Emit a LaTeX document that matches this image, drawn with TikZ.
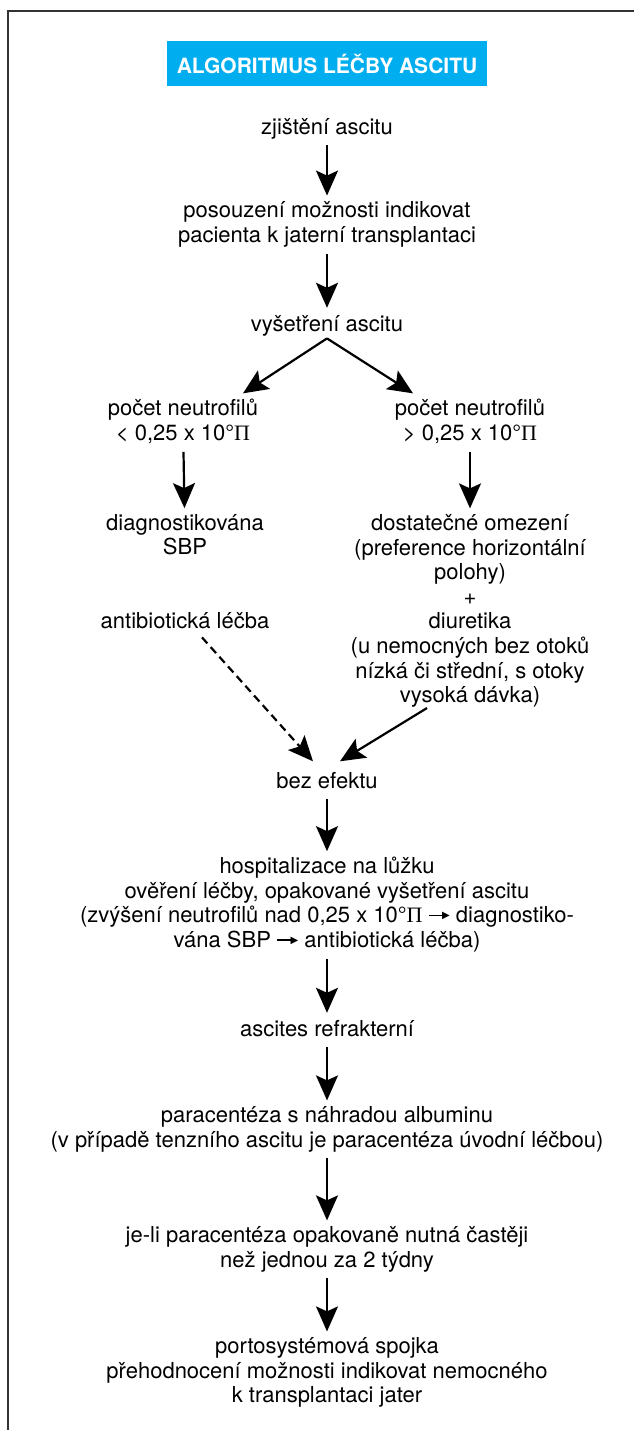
\documentclass[tikz,border=0pt]{standalone}
\usepackage{fontspec}
\setmainfont{TeX Gyre Heros}
\newfontfamily\serifpi{Liberation Serif}
\newfontfamily\arrowfont{DejaVu Sans}
\usetikzlibrary{arrows.meta}
\definecolor{titleblue}{HTML}{00AEEF}
\definecolor{framegray}{HTML}{333333}
\newcommand{\piu}{{\serifpi Π}}
\newcommand{\tarr}{\mbox{\rule[0.3em]{16pt}{1.4pt}\kern-2.5pt\raisebox{0.2em}{\arrowfont\fontsize{10}{10}\selectfont ▶}}}
\begin{document}
\begin{tikzpicture}[x=1pt,y=-1pt,
  txt/.style={align=center, inner xsep=0pt, inner ysep=0pt, outer sep=0pt,
    font=\fontsize{22}{24.6}\selectfont,
    execute at begin node=\strut, execute at end node=\strut},
  arr/.style={line width=2.2pt, shorten <=4pt, shorten >=6pt,
    -{Stealth[length=25pt,width=22pt,inset=5pt]}},
  dasharr/.style={arr, dash pattern=on 8pt off 5pt},
  titlebox/.style={fill=titleblue, text=white, inner sep=0pt,
    font=\bfseries\fontsize{21}{24}\selectfont,
    minimum width=320pt, minimum height=45pt}
]
\useasboundingbox (0,0) rectangle (634,1430);
\draw[framegray, line width=2pt] (634,11) -- (8,11) -- (8,1430);

\node[titlebox] (title) at (327,63.5) {ALGORITMUS LÉČBY ASCITU};

\node[txt] (zj) at (327,129.1) {zjištění ascitu};
\node[txt] (pos) at (327,225.6) {posouzení možnosti indikovat\\pacienta k jaterní transplantaci};
\node[txt] (vys) at (327,326.1) {vyšetření ascitu};
\node[txt] (pnL) at (183,423.6) {počet neutrofilů\\< 0,25 x 10°\piu};
\node[txt] (pnR) at (470,423.6) {počet neutrofilů\\> 0,25 x 10°\piu};
\node[txt] (diag) at (185,538.1) {diagnostikována\\SBP};
\node[txt] (ab) at (185,623.1) {antibiotická léčba};
\node[txt] (rb) at (470,612.2) {dostatečné omezení\\(preference horizontální\\polohy)\\+\\diuretika\\(u nemocných bez otoků\\nízká či střední, s otoky\\vysoká dávka)};
\node[txt] (bez) at (327,783.1) {bez efektu};
\node[txt] (hosp) at (327,906) {hospitalizace na lůžku\\ověření léčby, opakované vyšetření ascitu\\(zvýšení neutrofilů nad 0,25 x 10°\piu\ \tarr\ diagnostiko-\\vána SBP \tarr\ antibiotická léčba)};
\node[txt] (asc) at (327,1031.1) {ascites refrakterní};
\node[txt] (para) at (327,1130.4) {paracentéza s náhradou albuminu\\(v případě tenzního ascitu je paracentéza úvodní léčbou)};
\node[txt] (je) at (327,1250.4) {je-li paracentéza opakovaně nutná častěji\\než jednou za 2 týdny};
\node[txt] (porto) at (327,1373.7) {portosystémová spojka\\přehodnocení možnosti indikovat nemocného\\k transplantaci jater};

\draw[arr] (zj) -- (pos);
\draw[arr] (pos) -- (vys);
\draw[arr, shorten <=0pt, shorten >=0pt] (vys.south) -- ([xshift=60pt,yshift=6pt]pnL.north);
\draw[arr, shorten <=0pt, shorten >=0pt] (vys.south) -- ([xshift=-57pt,yshift=6pt]pnR.north);
\draw[arr] (pnL) -- (diag);
\draw[arr] (pnR) -- (rb);
\draw[dasharr, shorten <=0pt, shorten >=0pt] ([xshift=17pt,yshift=-2pt]ab.south) -- ([xshift=-14pt,yshift=9.5pt]bez.north);
\draw[arr, shorten <=0pt, shorten >=0pt] ([xshift=-43pt,yshift=2pt]rb.south) -- ([xshift=13pt,yshift=9.5pt]bez.north);
\draw[arr] (bez) -- (hosp);
\draw[arr] (hosp) -- (asc);
\draw[arr] (asc) -- (para);
\draw[arr] (para) -- (je);
\draw[arr] (je) -- (porto);
\end{tikzpicture}
\end{document}
